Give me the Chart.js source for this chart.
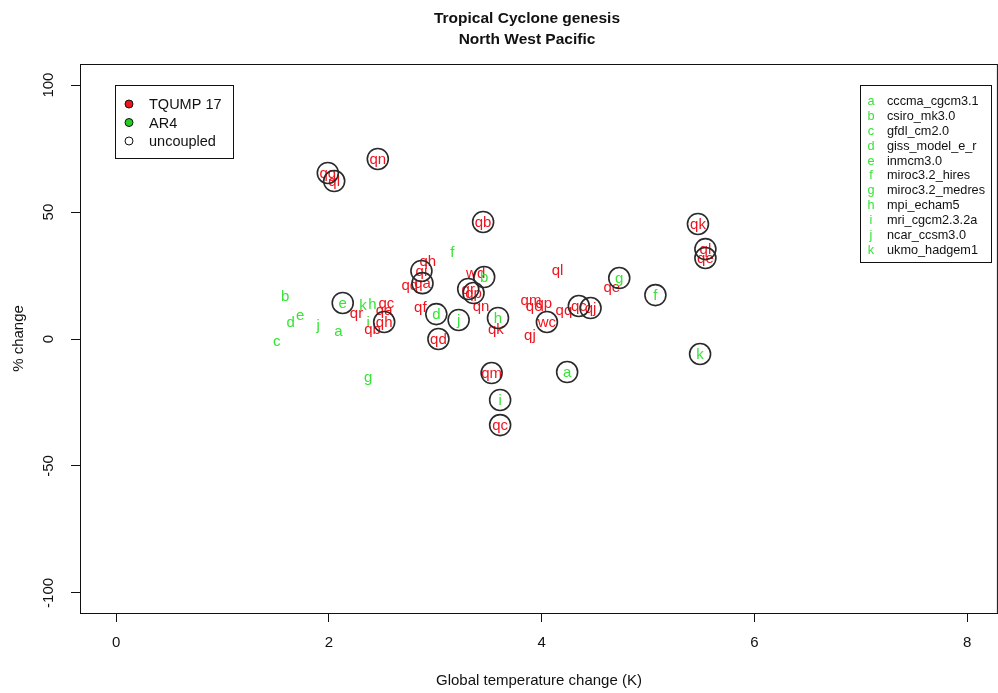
<!DOCTYPE html>
<html><head><meta charset="utf-8">
<script src="https://cdn.jsdelivr.net/npm/chart.js@4.4.1/dist/chart.umd.min.js"></script>
<style>html,body{margin:0;padding:0;background:#fff;overflow:hidden}#wrap{width:998px;height:693px;overflow:hidden}canvas{display:block}</style>
</head><body><div id="wrap"><canvas id="c" width="1010" height="693"></canvas></div>
<script>
// ─── DATA ────────────────────────────────────────────────────
// AR4 coupled runs (green letter only)
const ar4Codes=['a','b','c','d','e','f','g','h','i','j','k'];
const ar4X=[2.09,1.59,1.51,1.64,1.73,3.16,2.37,2.41,2.37,1.90,2.32];
const ar4Y=[3.1,16.9,-0.8,6.7,9.4,34.3,-15.0,13.8,6.7,5.5,13.4];
// AR4 uncoupled (green letter, ringed)
const ar4uCodes=['a','b','d','e','f','g','h','i','j','k'];
const ar4uX=[4.24,3.46,3.01,2.13,5.07,4.73,3.59,3.61,3.22,5.49];
const ar4uY=[-13.0,24.4,9.8,14.2,17.3,24.0,8.3,-24.0,7.5,-5.9];
// TQUMP 17 coupled (red code only)
const tqCodes=['qr','qh','qq','qf','qc','qa','qb','wd','qn','qk','ql','qm','qo','qp','qq','qj','qe'];
const tqX=[2.26,2.93,2.76,2.86,2.54,2.52,2.41,3.38,3.43,3.57,4.15,3.90,3.93,4.02,4.21,3.89,4.66];
const tqY=[10.2,30.7,21.3,12.6,14.2,11.4,3.9,26.0,13.0,3.9,27.2,15.4,13.0,14.2,11.4,1.6,20.5];
// TQUMP 17 uncoupled (red code, ringed)
const tquCodes=['qg','ql','qn','qb','qi','qa','qh','qr','qp','qd','qm','qc','wc','qc','qj','qk','ql','qe'];
const tquX=[1.99,2.05,2.46,3.45,2.87,2.88,2.52,3.31,3.36,3.03,3.53,3.61,4.05,4.35,4.46,5.47,5.54,5.54];
const tquY=[65.4,62.2,70.9,46.1,26.8,22.0,6.7,19.7,18.1,0.0,-13.4,-33.9,6.7,13.0,12.2,45.3,35.4,31.9];
// axes
const xTicks=[0,2,4,6,8];
const yTicks=[-100,-50,0,50,100];
// model key
const modelNames=['cccma_cgcm3.1','csiro_mk3.0','gfdl_cm2.0','giss_model_e_r','inmcm3.0','miroc3.2_hires','miroc3.2_medres','mpi_echam5','mri_cgcm2.3.2a','ncar_ccsm3.0','ukmo_hadgem1'];
const groupNames=['TQUMP 17','AR4','uncoupled'];

const F='"Liberation Sans", Arial, sans-serif';
const INK='#111';
const RED='#f0141e',GREEN='#36e436',RING='#2a2a2a';

const pts=(xs,ys)=>xs.map((x,i)=>({x,y:ys[i]}));

// ─── PLUGINS ─────────────────────────────────────────────────
// codeText — writes each point's code string at its position (under the rings)
const codeText={id:'codeText',
  beforeDatasetsDraw(chart){
    const ctx=chart.ctx;ctx.save();
    ctx.font='15px '+F;ctx.textAlign='center';ctx.textBaseline='middle';
    chart.data.datasets.forEach((ds,di)=>{if(!ds.codes)return;
      const meta=chart.getDatasetMeta(di);ctx.fillStyle=ds.codeColor;
      meta.data.forEach((el,i)=>ctx.fillText(ds.codes[i],el.x,el.y+1))});
    ctx.restore()}
};
// frame + title + the two key boxes
const decor={id:'decor',
  afterDraw(chart){
    const ctx=chart.ctx,a=chart.chartArea;ctx.save();
    ctx.strokeStyle=INK;ctx.lineWidth=1;
    ctx.strokeRect(a.left+0.5,a.top+0.5,a.right-a.left-1,a.bottom-a.top);
    // title
    ctx.fillStyle=INK;ctx.textAlign='center';ctx.textBaseline='middle';
    ctx.font='bold 15.5px '+F;
    ctx.fillText('Tropical Cyclone genesis',527,19);ctx.fillText('North West Pacific',527,40);
    // group key
    ctx.lineWidth=1;ctx.strokeStyle=INK;ctx.strokeRect(115.5,85.5,118,73);
    const dots=[RED,'#22cc22','#fff'];
    ctx.font='14.5px '+F;ctx.textAlign='left';
    groupNames.forEach((g,i)=>{const y=104+i*18.5;
      ctx.beginPath();ctx.arc(129,y,4,0,Math.PI*2);ctx.fillStyle=dots[i];ctx.fill();ctx.strokeStyle=INK;ctx.stroke();
      ctx.fillStyle=INK;ctx.fillText(g,149,y+1)});
    // model key
    ctx.strokeRect(860.5,85.5,131,177);
    ctx.font='12.7px '+F;
    modelNames.forEach((m,i)=>{const y=101.7+i*14.85;
      ctx.fillStyle=GREEN;ctx.textAlign='center';ctx.fillText(ar4Codes[i],871,y);
      ctx.fillStyle=INK;ctx.textAlign='left';ctx.fillText(m,887,y)});
    ctx.restore()}
};

// ─── CHART ───────────────────────────────────────────────────
const ringDs=(data)=>({data,pointRadius:10.5,pointBorderWidth:1.6,pointBorderColor:RING,pointBackgroundColor:'transparent',showLine:false});
const textDs=(data,codes,color)=>({data,codes,codeColor:color,pointRadius:0,showLine:false});

new Chart(document.getElementById('c'),{
  type:'scatter',
  data:{datasets:[
    ringDs(pts(tquX,tquY)),
    ringDs(pts(ar4uX,ar4uY)),
    textDs(pts(ar4X,ar4Y),ar4Codes,GREEN),
    textDs(pts(tqX,tqY),tqCodes,RED),
    textDs(pts(ar4uX,ar4uY),ar4uCodes,GREEN),
    textDs(pts(tquX,tquY),tquCodes,RED)
  ]},
  options:{responsive:false,animation:false,devicePixelRatio:1,events:[],
    layout:{padding:{top:64,right:10,left:0,bottom:0}},
    plugins:{legend:{display:false},tooltip:{enabled:false},title:{display:false}},
    scales:{
      x:{type:'linear',min:-0.34,max:8.29,
        afterBuildTicks:s=>{s.ticks=xTicks.map(v=>({value:v}))},afterFit:s=>{s.height=80},
        grid:{drawOnChartArea:false,drawTicks:true,tickLength:9,color:INK},border:{display:true,color:INK},
        ticks:{color:INK,font:{family:F,size:15},padding:12,maxRotation:0,autoSkip:false,callback:v=>String(v)},
        title:{display:true,text:'Global temperature change (K)',color:INK,font:{family:F,size:15},padding:{top:0,bottom:3}}},
      y:{type:'linear',min:-107.9,max:108.3,
        afterBuildTicks:s=>{s.ticks=yTicks.map(v=>({value:v}))},afterFit:s=>{s.width=80},
        grid:{drawOnChartArea:false,drawTicks:true,tickLength:9,color:INK},border:{display:true,color:INK},
        ticks:{color:INK,font:{family:F,size:15},padding:7,minRotation:90,maxRotation:90,crossAlign:'center',autoSkip:false,callback:v=>String(v)},
        title:{display:true,text:'% change',color:INK,font:{family:F,size:15},padding:{top:10,bottom:0}}}
    }
  },
  plugins:[codeText,decor]
});
</script></body></html>
